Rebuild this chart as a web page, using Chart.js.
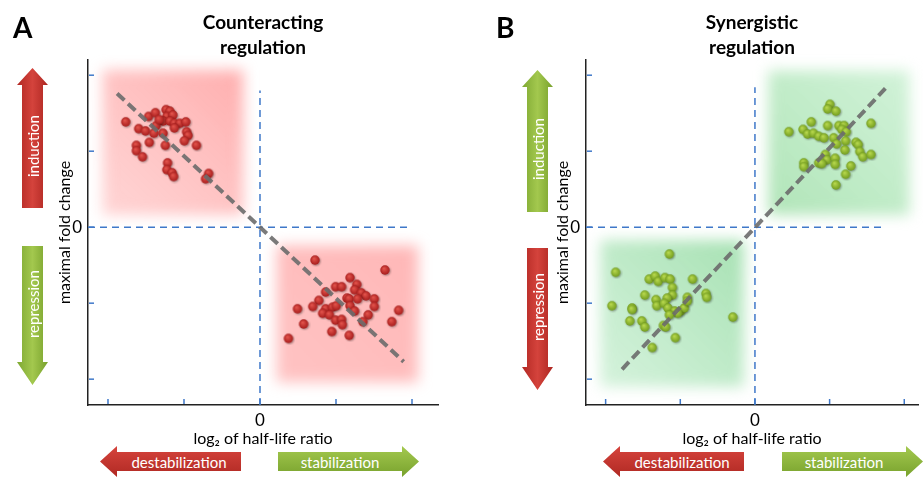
<!DOCTYPE html>
<html>
<head>
<meta charset="utf-8">
<script src="https://cdn.jsdelivr.net/npm/chart.js@4.4.0/dist/chart.umd.min.js"></script>
<style>
body { margin: 0; background: #fff; font-family: Lato, "Open Sans", sans-serif; }
#wrap { position: relative; width: 924px; height: 480px; overflow: hidden; }
canvas { position: absolute; top: 0; }
.tag { position: absolute; top: 10px; font-weight: bold; font-size: 28px; color: #000; }
.arrow { position: absolute; color: #fff; display: flex; align-items: center; justify-content: center; font-size: 15px; box-sizing: border-box; }
.red.h { background: linear-gradient(#d6443d, #b02923); }
.green.h { background: linear-gradient(#a4c94f, #78a22d); }
.red.v { background: linear-gradient(to right, #b22823, #d4433c 50%, #ad2621); }
.green.v { background: linear-gradient(to right, #7ea832, #a3c84e 50%, #78a12c); }
.left { height: 31px; padding-left: 17px; clip-path: polygon(0 50%, 17px 0, 17px 6px, 100% 6px, 100% 25px, 17px 25px, 17px 100%); }
.right { height: 31px; padding-right: 17px; clip-path: polygon(0 6px, calc(100% - 17px) 6px, calc(100% - 17px) 0, 100% 50%, calc(100% - 17px) 100%, calc(100% - 17px) 25px, 0 25px); }
.up { width: 31px; padding-top: 17px; clip-path: polygon(50% 0, 100% 17px, 26px 17px, 26px 100%, 5px 100%, 5px 17px, 0 17px); }
.down { width: 31px; padding-bottom: 23px; clip-path: polygon(5px 0, 26px 0, 26px calc(100% - 23px), 100% calc(100% - 23px), 50% 100%, 0 calc(100% - 23px), 5px calc(100% - 23px)); }
.v span { writing-mode: vertical-rl; transform: rotate(180deg); }
</style>
</head>
<body>
<div id="wrap">
  <canvas id="chartA" width="462" height="480" style="left:0"></canvas>
  <canvas id="chartB" width="462" height="480" style="left:462px"></canvas>

  <div class="tag" style="left:13px">A</div>
  <div class="tag" style="left:496px">B</div>

  <div class="arrow v red up" style="left:17px; top:68px; height:140px"><span>induction</span></div>
  <div class="arrow v green down" style="left:17px; top:246px; height:139px"><span>repression</span></div>
  <div class="arrow h red left" style="left:100px; top:446px; width:141px">destabilization</div>
  <div class="arrow h green right" style="left:278px; top:446px; width:141px">stabilization</div>

  <div class="arrow v green up" style="left:522px; top:70px; height:142px"><span>induction</span></div>
  <div class="arrow v red down" style="left:522px; top:248px; height:142px"><span>repression</span></div>
  <div class="arrow h red left" style="left:603px; top:446px; width:141px">destabilization</div>
  <div class="arrow h green right" style="left:782px; top:446px; width:141px">stabilization</div>
</div>

<script>
// tick positions and axis ranges (same units on both axes)
const tickVals = [-2, -1, 0, 1, 2];
const yMin = -2.34, yMax = 2.2;

// A: counteracting regulation
const counterUpper = [
    [-1.76, 1.38], [-1.59, 1.29], [-1.50, 1.26], [-1.46, 1.45], [-1.37, 1.50], [-1.23, 1.54],
    [-1.18, 1.52], [-1.22, 1.45], [-1.14, 1.47], [-1.27, 1.39], [-1.18, 1.39], [-1.12, 1.36],
    [-1.05, 1.36], [-0.97, 1.38], [-1.36, 1.33], [-1.39, 1.23], [-1.27, 1.23], [-1.12, 1.30],
    [-0.96, 1.25], [-0.94, 1.20], [-0.99, 1.13], [-1.45, 1.11], [-1.62, 1.07], [-1.62, 1.00],
    [-1.24, 1.07], [-0.83, 1.07], [-1.54, 0.92], [-1.21, 0.84], [-1.22, 0.75], [-1.15, 0.71],
    [-1.13, 0.66], [-0.67, 0.70], [-0.71, 0.63], [-1.32, 1.41]
];
const counterLower = [
    [0.73, -0.44], [1.65, -0.57], [1.19, -0.67], [1.00, -0.79], [1.08, -0.79], [1.28, -0.76],
    [1.25, -0.83], [1.34, -0.87], [1.40, -0.91], [0.87, -0.86], [1.15, -0.94], [1.18, -0.95],
    [1.29, -0.95], [1.51, -0.95], [0.78, -0.97], [0.70, -1.05], [0.50, -1.08], [0.87, -1.08],
    [0.96, -1.06], [1.01, -1.04], [1.19, -1.04], [1.25, -1.11], [1.51, -1.05], [1.83, -1.10],
    [0.83, -1.14], [0.92, -1.16], [1.43, -1.16], [0.58, -1.28], [1.00, -1.23], [1.08, -1.22],
    [1.09, -1.29], [1.36, -1.25], [1.74, -1.25], [0.95, -1.38], [1.18, -1.43], [0.38, -1.47]
];
const counterTrend = [[-1.88, 1.76], [1.89, -1.77]];

// B: synergistic regulation
const synerUpper = [
    [1.01, 1.61], [0.98, 1.55], [1.09, 1.52], [0.76, 1.38], [0.46, 1.25], [0.65, 1.28],
    [0.71, 1.22], [0.79, 1.23], [0.86, 1.19], [0.93, 1.17], [0.98, 1.33], [1.13, 1.33],
    [1.20, 1.33], [1.17, 1.28], [1.23, 1.25], [1.56, 1.36], [1.06, 1.17], [1.10, 1.09],
    [1.22, 1.13], [1.36, 1.11], [1.39, 1.08], [1.21, 1.01], [1.41, 0.99], [1.45, 0.92],
    [1.56, 0.95], [0.95, 0.95], [0.97, 0.88], [0.86, 0.84], [1.08, 0.90], [1.08, 0.82],
    [0.66, 0.84], [0.66, 0.79], [1.29, 0.80], [1.22, 0.69], [1.09, 0.55], [0.90, 0.83]
];
const synerLower = [
    [-1.14, -0.36], [-1.86, -0.60], [-1.41, -0.69], [-1.33, -0.65], [-1.29, -0.72], [-1.20, -0.67],
    [-1.13, -0.69], [-0.83, -0.69], [-1.10, -0.80], [-1.47, -0.90], [-1.10, -0.90], [-0.65, -0.88],
    [-0.64, -0.93], [-1.32, -0.96], [-1.17, -0.94], [-0.90, -0.93], [-1.31, -1.04], [-1.21, -1.01],
    [-1.16, -1.07], [-1.91, -1.04], [-1.64, -1.07], [-1.64, -1.09], [-1.07, -1.11], [-0.99, -1.11],
    [-0.94, -1.07], [-1.03, -1.14], [-1.14, -1.16], [-0.29, -1.19], [-1.67, -1.24], [-1.51, -1.24],
    [-1.47, -1.32], [-1.22, -1.30], [-1.19, -1.32], [-1.06, -1.46], [-1.37, -1.59], [-0.90, -0.98]
];
const synerTrend = [[-1.78, -1.87], [1.77, 1.85]];

const FONT = 'Lato, "Open Sans", sans-serif';

// shaded ball used as point marker
function ball(light, dark) {
    const cv = document.createElement('canvas');
    cv.width = cv.height = 13;
    const g = cv.getContext('2d');
    g.shadowColor = 'rgba(0,0,0,0.35)';
    g.shadowBlur = 2;
    g.shadowOffsetX = 1;
    g.shadowOffsetY = 1;
    const grad = g.createRadialGradient(5, 4.5, 0.5, 6, 6, 5);
    grad.addColorStop(0, light);
    grad.addColorStop(1, dark);
    g.fillStyle = grad;
    g.beginPath();
    g.arc(6, 6, 4.7, 0, Math.PI * 2);
    g.fill();
    return cv;
}

// blurred background squares + inward tick marks
const decorPlugin = {
    id: 'decor',
    beforeDatasetsDraw(chart, args, opts) {
        const { ctx, scales: { x, y } } = chart;
        opts.boxes.forEach(b => {
            const x0 = x.getPixelForValue(b.x0), x1 = x.getPixelForValue(b.x1);
            const y0 = y.getPixelForValue(b.y1), y1 = y.getPixelForValue(b.y0);
            ctx.save();
            ctx.filter = 'blur(7px)';
            const grad = ctx.createLinearGradient(x0, y1, x1, y0);
            grad.addColorStop(0, b.c0);
            grad.addColorStop(1, b.c1);
            ctx.fillStyle = grad;
            ctx.fillRect(x0, y0, x1 - x0, y1 - y0);
            ctx.restore();
        });
    },
    afterDraw(chart) {
        const { ctx, scales: { x, y } } = chart;
        ctx.save();
        ctx.strokeStyle = '#3f78c9';
        ctx.lineWidth = 1.5;
        tickVals.forEach(v => {
            const px = x.getPixelForValue(v);
            ctx.beginPath();
            ctx.moveTo(px, x.top - 1);
            ctx.lineTo(px, x.top - 6);
            ctx.stroke();
            const py = y.getPixelForValue(v);
            ctx.beginPath();
            ctx.moveTo(y.right + 1, py);
            ctx.lineTo(y.right + 6, py);
            ctx.stroke();
        });
        ctx.restore();
    }
};

const toXY = pts => pts.map(([x, y]) => ({ x, y }));

function makeChart(id, cfg) {
    const marker = ball(cfg.light, cfg.dark);
    const pointSet = pts => ({
        data: toXY(pts), pointStyle: marker, pointRadius: 5, order: 1
    });
    const lineSet = (pts, color, width, dash, order) => ({
        data: toXY(pts), showLine: true, borderColor: color, borderWidth: width,
        borderDash: dash, pointRadius: 0, order: order
    });

    return new Chart(document.getElementById(id), {
        type: 'scatter',
        data: {
            datasets: [
                lineSet([[0, yMin], [0, cfg.vTop]], '#3f78c9', 1.5, [7, 5], 2),
                lineSet([[cfg.xMin, 0], [cfg.hRight, 0]], '#3f78c9', 1.5, [7, 5], 2),
                pointSet(cfg.upper),
                pointSet(cfg.lower),
                lineSet(cfg.trend, 'rgba(108,108,108,0.9)', 4, [10, 5], 0)
            ]
        },
        options: {
            responsive: false,
            animation: false,
            devicePixelRatio: 1,
            layout: { padding: { left: cfg.padLeft, right: cfg.padRight, top: 10.6, bottom: 32 } },
            plugins: {
                legend: { display: false },
                tooltip: { enabled: false },
                title: {
                    display: true, text: cfg.title, fullSize: false, color: '#000',
                    font: { family: FONT, size: 19, weight: 'bold', lineHeight: 1.3 },
                    padding: { top: 0, bottom: 0 }
                },
                decor: { boxes: cfg.boxes }
            },
            scales: {
                x: {
                    type: 'linear', min: cfg.xMin, max: cfg.xMax,
                    afterFit: s => { s.height = 43; },
                    grid: { display: false, drawTicks: false },
                    border: { color: '#222', width: 1.5 },
                    ticks: {
                        stepSize: 1, padding: 5, autoSkip: false, maxRotation: 0, color: '#000',
                        font: { family: FONT, size: 17 },
                        callback: v => v === 0 ? '0' : ''
                    },
                    title: {
                        display: true, text: 'log₂ of half-life ratio', color: '#000',
                        font: { family: FONT, size: 16 }, padding: 0
                    }
                },
                y: {
                    type: 'linear', min: yMin, max: yMax,
                    afterFit: s => { s.width = 33; },
                    grid: { display: false, drawTicks: false },
                    border: { color: '#222', width: 1.5 },
                    ticks: {
                        stepSize: 1, padding: 6, autoSkip: false, color: '#000',
                        font: { family: FONT, size: 17 },
                        callback: v => v === 0 ? '0' : ''
                    },
                    title: {
                        display: true, text: 'maximal fold change', color: '#000',
                        font: { family: FONT, size: 16 }, padding: 0
                    }
                }
            }
        },
        plugins: [decorPlugin]
    });
}

makeChart('chartA', {
    title: ['Counteracting', 'regulation'],
    xMin: -2.263, xMax: 2.342, padLeft: 55, padRight: 24,
    vTop: 1.8, hRight: 1.95,
    upper: counterUpper, lower: counterLower, trend: counterTrend,
    light: '#e0514a', dark: '#a51a1a',
    boxes: [
        { x0: -2.07, x1: -0.22, y0: 0.16, y1: 2.07, c0: 'rgba(255,195,195,0.7)', c1: 'rgba(255,160,160,0.85)' },
        { x0: 0.22, x1: 2.08, y0: -2.04, y1: -0.24, c0: 'rgba(255,180,180,0.8)', c1: 'rgba(255,165,165,0.8)' }
    ]
});

makeChart('chartB', {
    title: ['Synergistic', 'regulation'],
    xMin: -2.263, xMax: 2.184, padLeft: 91, padRight: 0,
    vTop: 1.84, hRight: 1.7,
    upper: synerUpper, lower: synerLower, trend: synerTrend,
    light: '#b5d64c', dark: '#6f9a1c',
    boxes: [
        { x0: 0.18, x1: 2.07, y0: 0.16, y1: 2.06, c0: 'rgba(150,220,160,0.75)', c1: 'rgba(190,237,200,0.7)' },
        { x0: -2.07, x1: -0.15, y0: -2.1, y1: -0.17, c0: 'rgba(195,237,205,0.7)', c1: 'rgba(145,218,160,0.8)' }
    ]
});
</script>
</body>
</html>
